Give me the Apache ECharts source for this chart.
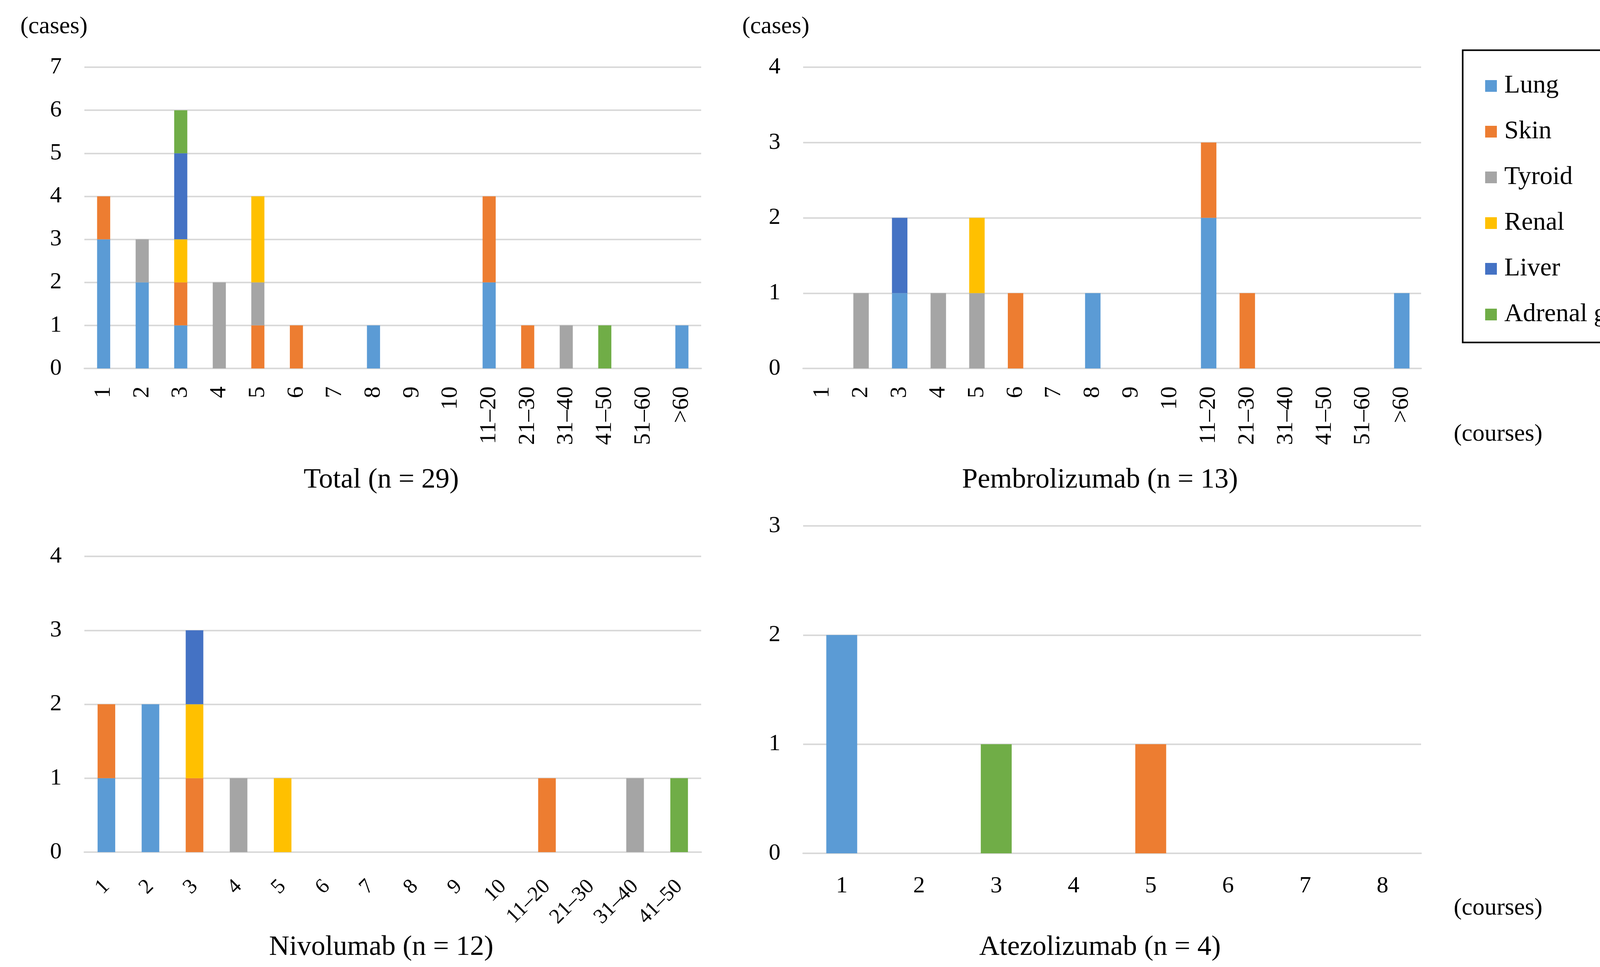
<!DOCTYPE html>
<html>
<head>
<meta charset="utf-8">
<script src="https://cdn.jsdelivr.net/npm/echarts@6/dist/echarts.min.js"></script>
<style>
html,body{margin:0;padding:0;background:#fff;}
#c{width:4351px;height:2475px;}
</style>
</head>
<body>
<div id="c"></div>
<script>
const organs = ["Lung","Skin","Tyroid","Renal","Liver","Adrenal gland"];
const organColors = ["#5B9BD5","#ED7D31","#A5A5A5","#FFC000","#4472C4","#70AD47"];

const catsLong = ["1","2","3","4","5","6","7","8","9","10","11–20","21–30","31–40","41–50","51–60",">60"];
const catsNivo = ["1","2","3","4","5","6","7","8","9","10","11–20","21–30","31–40","41–50"];
const catsAtezo = ["1","2","3","4","5","6","7","8"];

// Total (n = 29)
const totalLung    = [3,2,1,0,0,0,0,1,0,0,2,0,0,0,0,1];
const totalSkin    = [1,0,1,0,1,1,0,0,0,0,2,1,0,0,0,0];
const totalTyroid  = [0,1,0,2,1,0,0,0,0,0,0,0,1,0,0,0];
const totalRenal   = [0,0,1,0,2,0,0,0,0,0,0,0,0,0,0,0];
const totalLiver   = [0,0,2,0,0,0,0,0,0,0,0,0,0,0,0,0];
const totalAdrenal = [0,0,1,0,0,0,0,0,0,0,0,0,0,1,0,0];

// Pembrolizumab (n = 13)
const pembroLung    = [0,0,1,0,0,0,0,1,0,0,2,0,0,0,0,1];
const pembroSkin    = [0,0,0,0,0,1,0,0,0,0,1,1,0,0,0,0];
const pembroTyroid  = [0,1,0,1,1,0,0,0,0,0,0,0,0,0,0,0];
const pembroRenal   = [0,0,0,0,1,0,0,0,0,0,0,0,0,0,0,0];
const pembroLiver   = [0,0,1,0,0,0,0,0,0,0,0,0,0,0,0,0];
const pembroAdrenal = [0,0,0,0,0,0,0,0,0,0,0,0,0,0,0,0];

// Nivolumab (n = 12)
const nivoLung    = [1,2,0,0,0,0,0,0,0,0,0,0,0,0];
const nivoSkin    = [1,0,1,0,0,0,0,0,0,0,1,0,0,0];
const nivoTyroid  = [0,0,0,1,0,0,0,0,0,0,0,0,1,0];
const nivoRenal   = [0,0,1,0,1,0,0,0,0,0,0,0,0,0];
const nivoLiver   = [0,0,1,0,0,0,0,0,0,0,0,0,0,0];
const nivoAdrenal = [0,0,0,0,0,0,0,0,0,0,0,0,0,1];

// Atezolizumab (n = 4)
const atezoLung    = [2,0,0,0,0,0,0,0];
const atezoSkin    = [0,0,0,0,1,0,0,0];
const atezoTyroid  = [0,0,0,0,0,0,0,0];
const atezoRenal   = [0,0,0,0,0,0,0,0];
const atezoLiver   = [0,0,0,0,0,0,0,0];
const atezoAdrenal = [0,0,1,0,0,0,0,0];

const yMax = [7, 4, 4, 3];
const chartTitles = ["Total (n = 29)","Pembrolizumab (n = 13)","Nivolumab (n = 12)","Atezolizumab (n = 4)"];

const FONT = "Liberation Serif";
const GRID_COLOR = "#D9D9D9";

const panels = [
  {cats: catsLong, data: [totalLung,totalSkin,totalTyroid,totalRenal,totalLiver,totalAdrenal], bw: '34%', rotate: 90, margin: 46, fs: 60},
  {cats: catsLong, data: [pembroLung,pembroSkin,pembroTyroid,pembroRenal,pembroLiver,pembroAdrenal], bw: '40%', rotate: 90, margin: 46, fs: 60},
  {cats: catsNivo, data: [nivoLung,nivoSkin,nivoTyroid,nivoRenal,nivoLiver,nivoAdrenal], bw: '40%', rotate: 45, margin: 80, fs: 54},
  {cats: catsAtezo, data: [atezoLung,atezoSkin,atezoTyroid,atezoRenal,atezoLiver,atezoAdrenal], bw: '40%', rotate: 0, margin: 54, fs: 60}
];

const grids = [
  {left: 216, top: 172, width: 1579, height: 771},
  {left: 2056, top: 172, width: 1582, height: 771},
  {left: 216, top: 1424, width: 1579, height: 757},
  {left: 2056, top: 1346, width: 1582, height: 838}
];

const xAxes = panels.map((p, i) => ({
  type: 'category', gridIndex: i, data: p.cats,
  axisLine: {show: true, lineStyle: {color: GRID_COLOR, width: 4}},
  axisTick: {show: false},
  axisLabel: {interval: 0, rotate: p.rotate, margin: p.margin, color: '#000', fontFamily: FONT, fontSize: p.fs}
}));

const yAxes = panels.map((p, i) => ({
  type: 'value', gridIndex: i, min: 0, max: yMax[i], interval: 1,
  axisLine: {show: false}, axisTick: {show: false},
  splitLine: {show: true, lineStyle: {color: GRID_COLOR, width: 4}},
  axisLabel: {margin: 58, color: '#000', fontFamily: FONT, fontSize: 60}
}));

const series = [];
panels.forEach((p, i) => {
  organs.forEach((o, k) => {
    series.push({
      type: 'bar', name: o, xAxisIndex: i, yAxisIndex: i, stack: 'g' + i,
      barWidth: p.bw, data: p.data[k],
      itemStyle: {color: organColors[k]},
      emphasis: {disabled: true}
    });
  });
});

const txt = (text, x, y, size) => ({
  text: text, left: x, top: y, textAlign: 'center', textVerticalAlign: 'middle',
  textStyle: {fontFamily: FONT, fontSize: size, fontWeight: 'normal', color: '#000'}
});

const titles = [
  txt("(cases)", 133, 64, 62),
  txt("(cases)", 1981, 64, 62),
  txt("(courses)", 3830, 1107, 62),
  txt("(courses)", 3830, 2320, 62),
  txt(chartTitles[0], 971, 1224, 72),
  txt(chartTitles[1], 2811, 1224, 72),
  txt(chartTitles[2], 971, 2420, 72),
  txt(chartTitles[3], 2811, 2420, 72)
];

const chart = echarts.init(document.getElementById('c'), null, {renderer: 'canvas'});
chart.setOption({
  animation: false,
  backgroundColor: '#fff',
  title: titles,
  grid: grids,
  xAxis: xAxes,
  yAxis: yAxes,
  legend: {
    data: organs, orient: 'vertical', left: 3802, top: 184,
    itemWidth: 30, itemHeight: 30, itemGap: 45, icon: 'rect',
    padding: 0,
    textStyle: {fontFamily: FONT, fontSize: 66, color: '#000', lineHeight: 72, padding: [0,0,0,14]}
  },
  graphic: [{
    type: 'rect', left: 3742, top: 126,
    shape: {width: 588, height: 748},
    style: {fill: 'none', stroke: '#000', lineWidth: 4}
  }],
  series: series
});
</script>
</body>
</html>
